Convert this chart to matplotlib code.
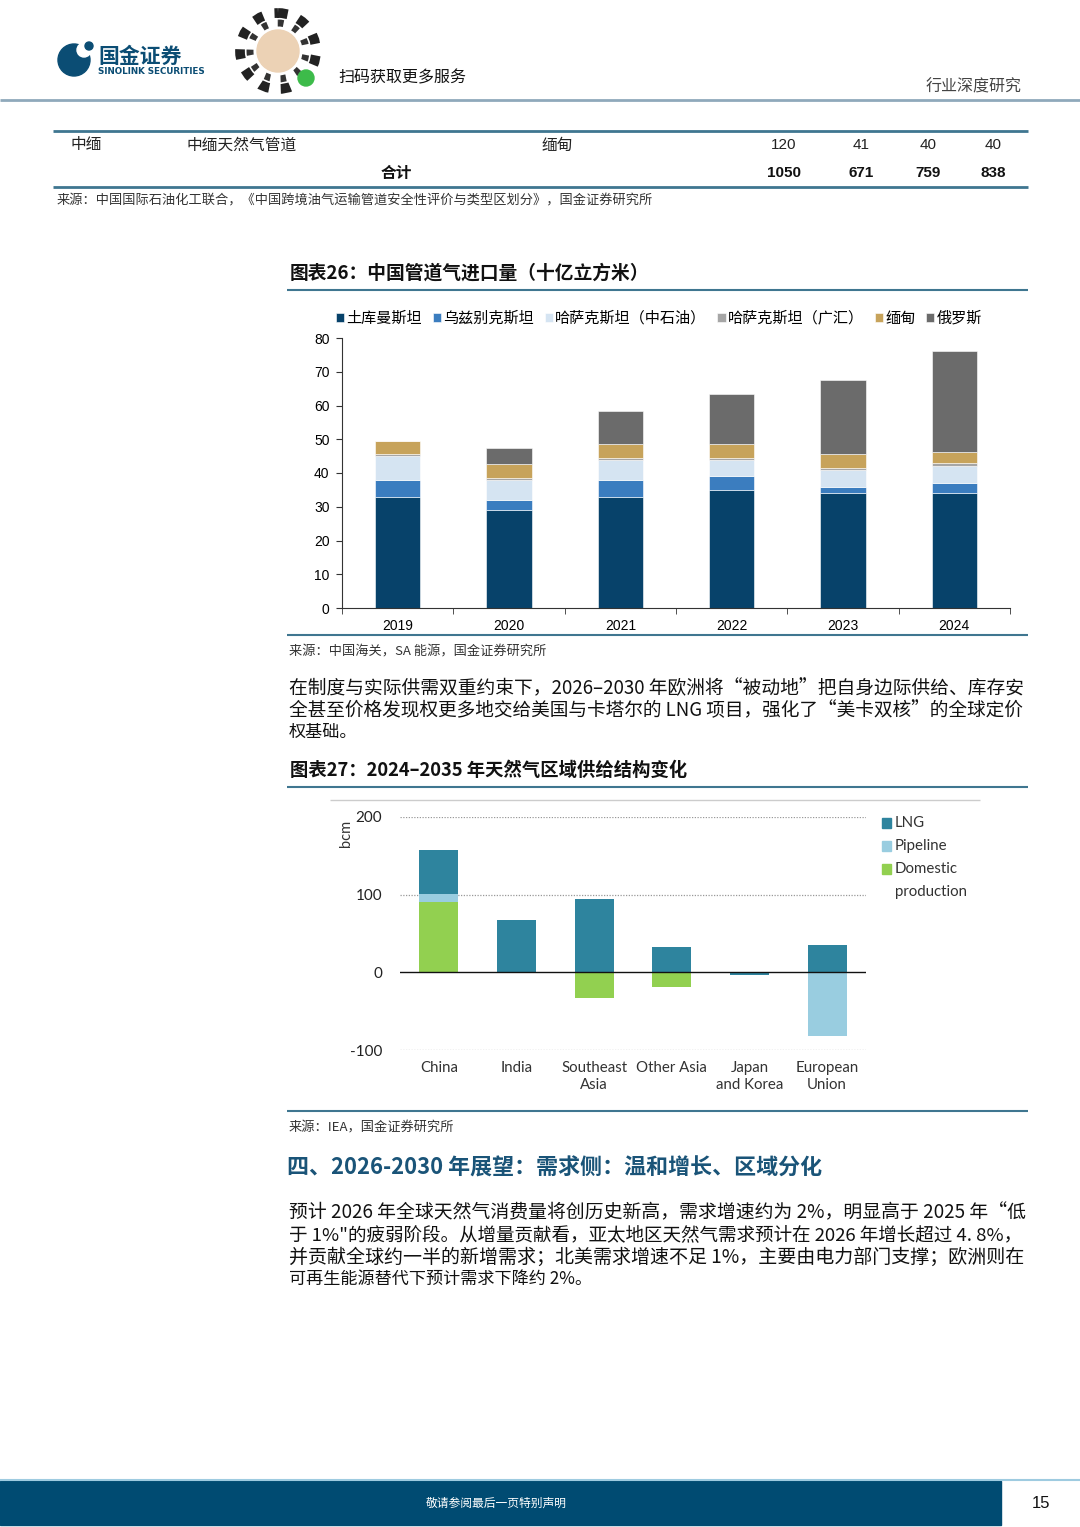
import numpy as np
import matplotlib
matplotlib.use('Agg')
import matplotlib.pyplot as plt
from matplotlib.patches import Rectangle, Circle

plt.rcParams['font.family'] = ['Noto Sans CJK SC', 'DejaVu Sans']
plt.rcParams['axes.unicode_minus'] = False

#%% Dati
# 图表26
years = ['2019', '2020', '2021', '2022', '2023', '2024']
turkmen = [33, 29, 33, 35, 34, 34]
uzbek = [5, 3, 5, 4, 2, 3]
kaz_cnpc = [7, 6, 6, 5, 5, 5]
kaz_gh = [0.5, 0.4, 0.4, 0.3, 0.4, 1.0]
myanmar = [4, 4.2, 4.1, 4.3, 4.2, 3.1]
russia = [0, 4.9, 10, 14.9, 21.9, 30]
names26 = ['土库曼斯坦', '乌兹别克斯坦', '哈萨克斯坦（中石油）', '哈萨克斯坦（广汇）', '缅甸', '俄罗斯']
colors26 = ['#07426a', '#3b7dbf', '#d5e4f2', '#a6a6a6', '#c7a35b', '#6b6b6b']

# 图表27
regions = ['China', 'India', 'Southeast\nAsia', 'Other Asia', 'Japan\nand Korea', 'European\nUnion']
domestic = [90, 1, -33, -19, 0, 0]
pipeline = [11, 0, 0, 0, 0, -82]
lng = [57, 67, 95, 32, -3, 35]
names27 = ['LNG', 'Pipeline', 'Domestic\nproduction']
colors27 = ['#2e849e', '#99cde0', '#92d050']

# tabella
row1 = ['中缅', '中缅天然气管道', '缅甸', '120', '41', '40', '40']
row2 = ['合计', '1050', '671', '759', '838']

para1 = ['在制度与实际供需双重约束下，2026–2030 年欧洲将“被动地”把自身边际供给、库存安',
         '全甚至价格发现权更多地交给美国与卡塔尔的 LNG 项目，强化了“美卡双核”的全球定价',
         '权基础。']
para2 = ['预计 2026 年全球天然气消费量将创历史新高，需求增速约为 2%，明显高于 2025 年“低',
         '于 1%"的疲弱阶段。从增量贡献看，亚太地区天然气需求预计在 2026 年增长超过 4. 8%，',
         '并贡献全球约一半的新增需求；北美需求增速不足 1%，主要由电力部门支撑；欧洲则在',
         '可再生能源替代下预计需求下降约 2%。']

W, H = 1080, 1527
DARK = '#0b4d74'
LINE = '#3f7690'
NUM = ['Liberation Sans', 'DejaVu Sans']
LAT = ['Lato', 'DejaVu Sans']

fig = plt.figure(figsize=(W / 100, H / 100), dpi=100)
renderer = fig.canvas.get_renderer()

# sfondo in pixel
bg = fig.add_axes([0, 0, 1, 1])
bg.set_xlim(0, W)
bg.set_ylim(H, 0)
bg.axis('off')


def ax_px(left, top, right, bottom):
    return fig.add_axes([left / W, 1 - bottom / H, (right - left) / W, (bottom - top) / H])


def hline(x0, x1, y, color=LINE, lw=1.5):
    bg.plot([x0, x1], [y, y], color=color, lw=lw, solid_capstyle='butt')


def fit_text(x0, x1, y, s, size, **kw):
    t = bg.text(x0, y, s, fontsize=size, va='center', ha='left', **kw)
    w = t.get_window_extent(renderer).width
    t.set_fontsize(size * (x1 - x0) / w)
    return t


#%% Intestazione
bg.add_patch(Circle((74, 60), 16, color=DARK))
bg.add_patch(Circle((84, 50), 7, color='white'))
bg.add_patch(Circle((89, 46), 4, color=DARK))
bg.text(98, 56, '国金证券', fontsize=15, fontweight='bold', color=DARK, va='center')
bg.text(98, 71, 'SINOLINK SECURITIES', fontsize=6.3, fontweight='bold', color=DARK, va='center',
        family='DejaVu Sans')
# QR
bg.add_patch(Circle((278, 51), 38, fill=False, ec='#222', lw=7, ls=(0, (1, 1.2))))
bg.add_patch(Circle((278, 51), 28, fill=False, ec='#333', lw=5, ls=(0, (0.8, 1.5))))
bg.add_patch(Circle((278, 51), 21, color='#ecd2b5'))
bg.add_patch(Circle((306, 78), 8, color='#3dbb4a'))
bg.text(338, 78, '扫码获取更多服务', fontsize=11.5, color='#111', va='center')
bg.text(1022, 87, '行业深度研究', fontsize=11.5, color='#444', va='center', ha='right')
hline(0, W, 100, color='#8fa9bb', lw=2)

#%% Tabella
hline(53, 1028, 131, lw=2)
bg.text(70, 145, row1[0], fontsize=11.3, va='center', color='#222')
bg.text(186, 145, row1[1], fontsize=11.3, va='center', color='#222')
bg.text(542, 145, row1[2], fontsize=11.3, va='center', color='#222')
for xc, v in zip([784, 861, 928, 993], row1[3:]):
    bg.text(xc, 145, v, fontsize=11, va='center', ha='center', color='#222', family=NUM)
bg.text(396, 173, row2[0], fontsize=11.3, va='center', ha='center', fontweight='bold', color='#111')
for xc, v in zip([784, 861, 928, 993], row2[1:]):
    bg.text(xc, 173, v, fontsize=11, va='center', ha='center', fontweight='bold', color='#111', family=NUM)
hline(53, 1028, 187, lw=2)
bg.text(57, 201, '来源：中国国际石油化工联合，《中国跨境油气运输管道安全性评价与类型区划分》，国金证券研究所',
        fontsize=9.5, va='center', color='#333')

#%% Grafico 26
bg.text(290, 273, '图表26：中国管道气进口量（十亿立方米）', fontsize=13.5, fontweight='bold', va='center', color='#111')
hline(287, 1028, 290)

ax1 = ax_px(342, 338, 1010, 608)
x = np.arange(len(years))
series26 = [turkmen, uzbek, kaz_cnpc, kaz_gh, myanmar, russia]
bottom = np.zeros(len(years))
for vals, col, nm in zip(series26, colors26, names26):
    ax1.bar(x, vals, 0.41, bottom=bottom, color=col, label=nm, edgecolor='white', linewidth=0.4)
    bottom += np.array(vals)
ax1.set_xlim(-0.5, len(years) - 0.5)
ax1.set_ylim(0, 80)
ax1.set_yticks(range(0, 81, 10))
ax1.set_xticks(x)
ax1.set_xticklabels(years)
ax1.set_xticks(np.arange(-0.5, len(years)), minor=True)
ax1.tick_params(axis='x', which='major', length=0, pad=8, labelsize=10)
ax1.tick_params(axis='x', which='minor', length=4, direction='out', color='#333')
ax1.tick_params(axis='y', length=4, direction='out', pad=5, labelsize=10, color='#333')
for lbl in ax1.get_xticklabels() + ax1.get_yticklabels():
    lbl.set_family(NUM)
for s in ['top', 'right']:
    ax1.spines[s].set_visible(False)
ax1.spines['left'].set_color('#333')
ax1.spines['bottom'].set_color('#333')
ax1.legend(loc='center left', bbox_to_anchor=(336 / W, 1 - 318 / H), bbox_transform=fig.transFigure,
           ncol=6, frameon=False, fontsize=10.9, handlelength=0.55, handleheight=0.55,
           handletextpad=0.15, columnspacing=0.7, borderaxespad=0, borderpad=0)

hline(287, 1028, 635)
bg.text(289, 652, '来源：中国海关，SA 能源，国金证券研究所', fontsize=9.5, va='center', color='#333')

#%% Paragrafo 1
for i, s in enumerate(para1):
    y = 689 + i * 21.5
    if i < len(para1) - 1:
        fit_text(289, 1023, y, s, 12, color='#111')
    else:
        bg.text(289, y, s, fontsize=12.3, va='center', color='#111')

#%% Grafico 27
bg.text(290, 770, '图表27：2024–2035 年天然气区域供给结构变化', fontsize=13.2, fontweight='bold', va='center', color='#111')
hline(287, 1028, 787)
hline(330, 980, 800, color='#cccccc', lw=1)

ax2 = ax_px(400, 817, 866, 1050)
x2 = np.arange(len(regions))
pos_b = np.zeros(len(regions))
neg_b = np.zeros(len(regions))
for vals, col in zip([domestic, pipeline, lng], [colors27[2], colors27[1], colors27[0]]):
    v = np.array(vals, dtype=float)
    b = np.where(v >= 0, pos_b, neg_b)
    ax2.bar(x2, v, 0.5, bottom=b, color=col, zorder=3)
    pos_b += np.where(v > 0, v, 0)
    neg_b += np.where(v < 0, v, 0)
ax2.set_xlim(-0.5, len(regions) - 0.5)
ax2.set_ylim(-100, 200)
ax2.set_yticks([-100, 0, 100, 200])
ax2.set_xticks(x2)
ax2.set_xticklabels(regions, family=LAT, fontsize=10.8, color='#333', linespacing=1.3)
for lbl in ax2.get_yticklabels():
    lbl.set_family(LAT)
ax2.tick_params(axis='y', length=0, pad=13, labelsize=11, labelcolor='#222')
ax2.tick_params(axis='x', length=0, pad=8)
for s in ax2.spines.values():
    s.set_visible(False)
for yv in [-100, 100, 200]:
    ax2.axhline(yv, color='#999999', lw=0.9, ls=(0, (1, 1.2)), zorder=1)
ax2.axhline(0, color='#111', lw=1, zorder=4)
ax2.set_ylabel('bcm', fontsize=10.5, family=LAT, color='#333')
ax2.yaxis.set_label_coords(-0.10, 0.93)

# legenda manuale
for i, (nm, col) in enumerate(zip(names27, colors27)):
    y = 823 + i * 23
    bg.add_patch(Rectangle((882, y - 5), 9, 10, color=col))
    bg.text(895, y, nm.split('\n')[0], fontsize=10.8, va='center', family=LAT, color='#333')
    if '\n' in nm:
        bg.text(895, y + 23, nm.split('\n')[1], fontsize=10.8, va='center', family=LAT, color='#333')

hline(287, 1028, 1111)
bg.text(289, 1128, '来源：IEA，国金证券研究所', fontsize=9.5, va='center', color='#333')

#%% Sezione quattro
fit_text(287, 822, 1168, '四、2026-2030 年展望：需求侧：温和增长、区域分化', 16, fontweight='bold', color='#1a5478')

for i, s in enumerate(para2):
    y = 1213 + i * 22
    if i < len(para2) - 1:
        fit_text(289, 1023, y, s, 12, color='#111')
    else:
        bg.text(289, y, s, fontsize=12.3, va='center', color='#111')

#%% Piè di pagina
hline(0, W, 1480, color='#9ecbe0', lw=1.5)
bg.add_patch(Rectangle((0, 1481), 1001, 44, color='#004b72'))
bg.text(496, 1503, '敬请参阅最后一页特别声明', fontsize=8.5, color='white', va='center', ha='center')
bg.text(1041, 1503, '15', fontsize=12, color='#111', va='center', ha='center', family=NUM)

fig.savefig('out.png', dpi=100)
